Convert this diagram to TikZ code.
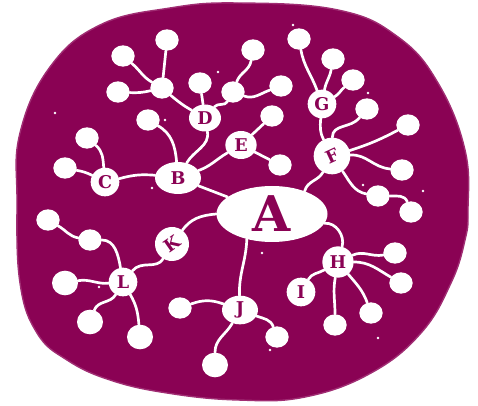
\documentclass[tikz,border=0pt]{standalone}
\usepackage{fontspec}
\setmainfont{DejaVu Serif}
\usepackage{tikz}
\usetikzlibrary{shapes.geometric}
\definecolor{plum}{RGB}{138,2,84}
\definecolor{plumrim}{RGB}{160,45,115}

\begin{document}
\begin{tikzpicture}[x=0.3mm, y=0.3mm,
  dot/.style={ellipse, fill=white, minimum width=7mm, minimum height=6.4mm, inner sep=0pt},
  bigdot/.style={dot, minimum width=7.8mm, minimum height=7.4mm},
  letter/.style={circle, fill=white, text=plum, inner sep=0pt, minimum size=8.6mm,
    font=\bfseries\fontsize{15}{15}\selectfont},
  link/.style={white, line width=2.3pt, line cap=round}]
\useasboundingbox (0,0) rectangle (478,406);

% the blob
\fill[plum, draw=plumrim, line width=1.2pt] plot[smooth cycle, tension=0.7] coordinates {
  (17,206) (20,273) (50,339) (100,381) (170,398) (238,403) (338,396) (398,369)
  (438,323) (465,256) (468,196) (465,166) (451,123) (421,73) (371,33) (305,9)
  (238,6) (167,13) (110,26) (67,46) (37,73) (20,123)};
\foreach \p in {(55,293),(293,381),(218,334),(165,286),(152,218),(99,119),
  (262,153),(270,56),(378,68),(368,313),(363,221),(423,215)}
  \fill[white] \p circle (1.4);

% centre
\node[ellipse, fill=white, text=plum, minimum width=33.3mm, minimum height=16.8mm,
  inner sep=0pt, font=\bfseries\fontsize{42}{42}\selectfont] (A) at (272,192) {A};

% lettered nodes
\node[letter, ellipse, minimum width=13.8mm, minimum height=9.6mm] (B) at (178,228) {B};
\node[letter] (C) at (105,224) {C};
\node[letter, ellipse, minimum width=9.6mm, minimum height=8.1mm] (D) at (205,288) {D};
\node[letter, ellipse, minimum width=9.4mm, minimum height=8.4mm] (E) at (241,261) {E};
\node[letter, minimum size=11mm, rotate=25] (F) at (332,250) {F};
\node[letter] (G) at (322,302) {G};
\node[letter, minimum size=9.4mm] (H) at (338,144) {H};
\node[letter] (I) at (301,114) {I};
\node[letter, ellipse, minimum width=10.8mm, minimum height=8.6mm] (J) at (240,96) {J};
\node[letter, minimum size=10.2mm, rotate=35] (K) at (172,162) {K};
\node[letter] (L) at (123,124) {L};

% junctions
\node[dot] (dl) at (162,318) {};
\node[dot] (dr) at (233,314) {};
\node[dot] (fm) at (378,210) {};
\node[dot] (lm) at (90,166) {};

% leaves
\node[dot] (dl1) at (167,366) {};
\node[dot] (dl2) at (123,350) {};
\node[dot] (dl3) at (118,314) {};
\node[dot] (d1) at (200,323) {};
\node[dot] (dr1) at (253,356) {};
\node[dot] (dr2) at (281,320) {};
\node[dot] (e1) at (272,290) {};
\node[dot] (e2) at (280,241) {};
\node[dot] (b1) at (148,286) {};
\node[dot] (c1) at (65,238) {};
\node[dot] (c2) at (87,268) {};
\node[dot] (g1) at (299,367) {};
\node[dot] (g2) at (333,347) {};
\node[dot] (g3) at (353,326) {};
\node[dot] (f1) at (367,297) {};
\node[dot] (f2) at (408,281) {};
\node[dot] (f3) at (402,236) {};
\node[dot] (f4) at (411,194) {};
\node[dot] (h1) at (395,153) {};
\node[dot] (h2) at (401,123) {};
\node[dot] (h3) at (371,93) {};
\node[dot] (h4) at (335,81) {};
\node[dot] (j1) at (180,98) {};
\node[bigdot] (j2) at (215,41) {};
\node[dot] (j3) at (277,69) {};
\node[dot] (l0) at (48,186) {};
\node[bigdot] (l1) at (65,123) {};
\node[bigdot] (l2) at (90,84) {};
\node[bigdot] (l3) at (140,69) {};

% branches
\draw[link] (B) -- (A);
\draw[link] (K) to[out=35,in=185] (A.west);
\draw[link] (A.-135) to[out=-92,in=92] (J);
\draw[link] (A.-10) to[out=5,in=75] (H);
\draw[link] (A.35) to[out=75,in=-135] (F);
\draw[link] (C) to[bend left=10] (B);
\draw[link] (C) to[bend right=8] (c1);
\draw[link] (C) to[out=95,in=-40] (c2);
\draw[link] (B) to[out=95,in=-30] (b1);
\draw[link] (B) to[out=60,in=-80] (D);
\draw[link] (B) to[out=20,in=-150] (E);
\draw[link] (D) to[out=150,in=-40] (dl);
\draw[link] (D) -- (d1);
\draw[link] (D) to[out=50,in=-120] (dr);
\draw[link] (dl) -- (dl1);
\draw[link] (dl) to[out=150,in=-40] (dl2);
\draw[link] (dl) to[bend left=8] (dl3);
\draw[link] (dr) to[out=70,in=-100] (dr1);
\draw[link] (dr) to[out=-20,in=-160] (dr2);
\draw[link] (E) -- (e1);
\draw[link] (E) -- (e2);
\draw[link] (G) to[out=110,in=-80] (g1);
\draw[link] (G) to[out=80,in=-100] (g2);
\draw[link] (G) to[out=30,in=-140] (g3);
\draw[link] (G) to[out=-95,in=100] (F);
\draw[link] (F) to[out=75,in=-130] (f1);
\draw[link] (F) to[bend right=5] (f2);
\draw[link] (F) to[out=-10,in=175] (f3);
\draw[link] (F) to[out=-70,in=170] (fm);
\draw[link] (fm) to[out=0,in=110] (f4);
\draw[link] (H) to[out=25,in=190] (h1);
\draw[link] (H) to[out=0,in=150] (h2);
\draw[link] (H) to[out=-50,in=110] (h3);
\draw[link] (H) to[out=-100,in=90] (h4);
\draw[link] (H) to[out=-150,in=60] (I);
\draw[link] (J) to[out=160,in=20] (j1);
\draw[link] (J) to[out=-120,in=90] (j2);
\draw[link] (J) to[out=-20,in=110] (j3);
\draw[link] (K) to[out=-140,in=50] (L);
\draw[link] (L) to[out=100,in=0] (lm);
\draw[link] (lm) to[out=170,in=-30] (l0);
\draw[link] (L) to[out=-175,in=10] (l1);
\draw[link] (L) to[out=-120,in=70] (l2);
\draw[link] (L) to[out=-60,in=95] (l3);
\end{tikzpicture}
\end{document}
